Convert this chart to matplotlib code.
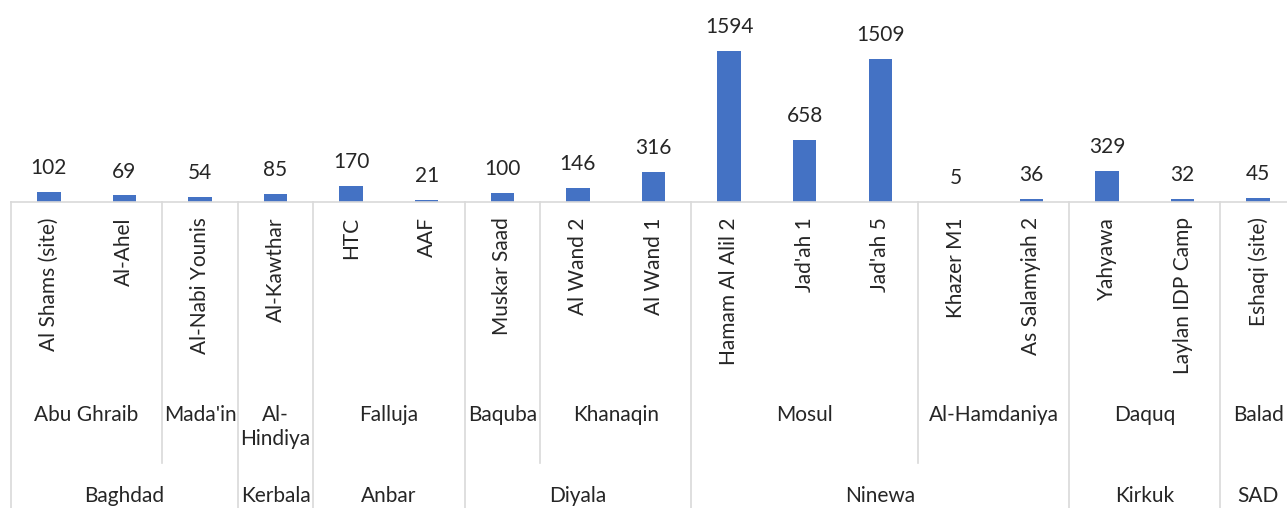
import matplotlib.pyplot as plt

sites = ["Al Shams (site)", "Al-Ahel", "Al-Nabi Younis", "Al-Kawthar", "HTC", "AAF",
         "Muskar Saad", "Al Wand 2", "Al Wand 1", "Hamam Al Alil 2", "Jad'ah 1", "Jad'ah 5",
         "Khazer M1", "As Salamyiah 2", "Yahyawa", "Laylan IDP Camp", "Eshaqi (site)"]
values = [102, 69, 54, 85, 170, 21, 100, 146, 316, 1594, 658, 1509, 5, 36, 329, 32, 45]

# (name, first index, last index)
subdistricts = [("Abu Ghraib", 0, 1), ("Mada'in", 2, 2), ("Al-\nHindiya", 3, 3),
                ("Falluja", 4, 5), ("Baquba", 6, 6), ("Khanaqin", 7, 8),
                ("Mosul", 9, 11), ("Al-Hamdaniya", 12, 13), ("Daquq", 14, 15),
                ("Balad", 16, 16)]
governorates = [("Baghdad", 0, 2), ("Kerbala", 3, 3), ("Anbar", 4, 5), ("Diyala", 6, 8),
                ("Ninewa", 9, 13), ("Kirkuk", 14, 15), ("SAD", 16, 16)]

plt.rcParams["font.family"] = ["Lato", "DejaVu Sans"]
txt = "#262626"
grid = "#d9d9d9"
fs = 15

W, H = 1287, 508
fig = plt.figure(figsize=(W / 100, H / 100), dpi=100)
base = 202  # pixel row of the axis line
ax = fig.add_axes([11 / W, (H - base) / H, 1285 / W, base / H])

x = list(range(len(sites)))
bars = ax.bar(x, values, width=0.31, color="#4472C4")
ax.set_xlim(-0.5, len(sites) - 0.5)
ax.set_ylim(0, 2133)
for xi, v in zip(x, values):
    ax.annotate(str(v), (xi, v), xytext=(0, 10), textcoords="offset points",
                ha="center", va="bottom", fontsize=fs, color=txt)

for s in ["top", "left", "right"]:
    ax.spines[s].set_visible(False)
ax.spines["bottom"].set_color(grid)
ax.spines["bottom"].set_linewidth(1.2)
ax.set_yticks([])
ax.set_xticks(x)
ax.set_xticklabels(sites, rotation=90, va="top", ha="center", fontsize=fs, color=txt)
ax.tick_params(axis="x", length=0, pad=11)

tr = ax.get_xaxis_transform()


def py(p):
    # pixel row -> axes fraction
    return -(p - base) / base


gov_edges = set()
for name, a, b in governorates:
    gov_edges.add(a - 0.5)
    gov_edges.add(b + 0.5)
    ax.text((a + b) / 2, py(486), name, transform=tr, ha="center", va="top",
            fontsize=fs, color=txt)
sub_edges = set()
for name, a, b in subdistricts:
    sub_edges.add(a - 0.5)
    sub_edges.add(b + 0.5)
    ax.text((a + b) / 2, py(405), name, transform=tr, ha="center", va="top",
            fontsize=fs, color=txt, linespacing=1.25)

for e in sorted(gov_edges):
    ax.plot([e, e], [0, py(H + 5)], transform=tr, color=grid, lw=1.2, clip_on=False)
for e in sorted(sub_edges - gov_edges):
    ax.plot([e, e], [0, py(463)], transform=tr, color=grid, lw=1.2, clip_on=False)

fig.savefig("out.png", dpi=100)
